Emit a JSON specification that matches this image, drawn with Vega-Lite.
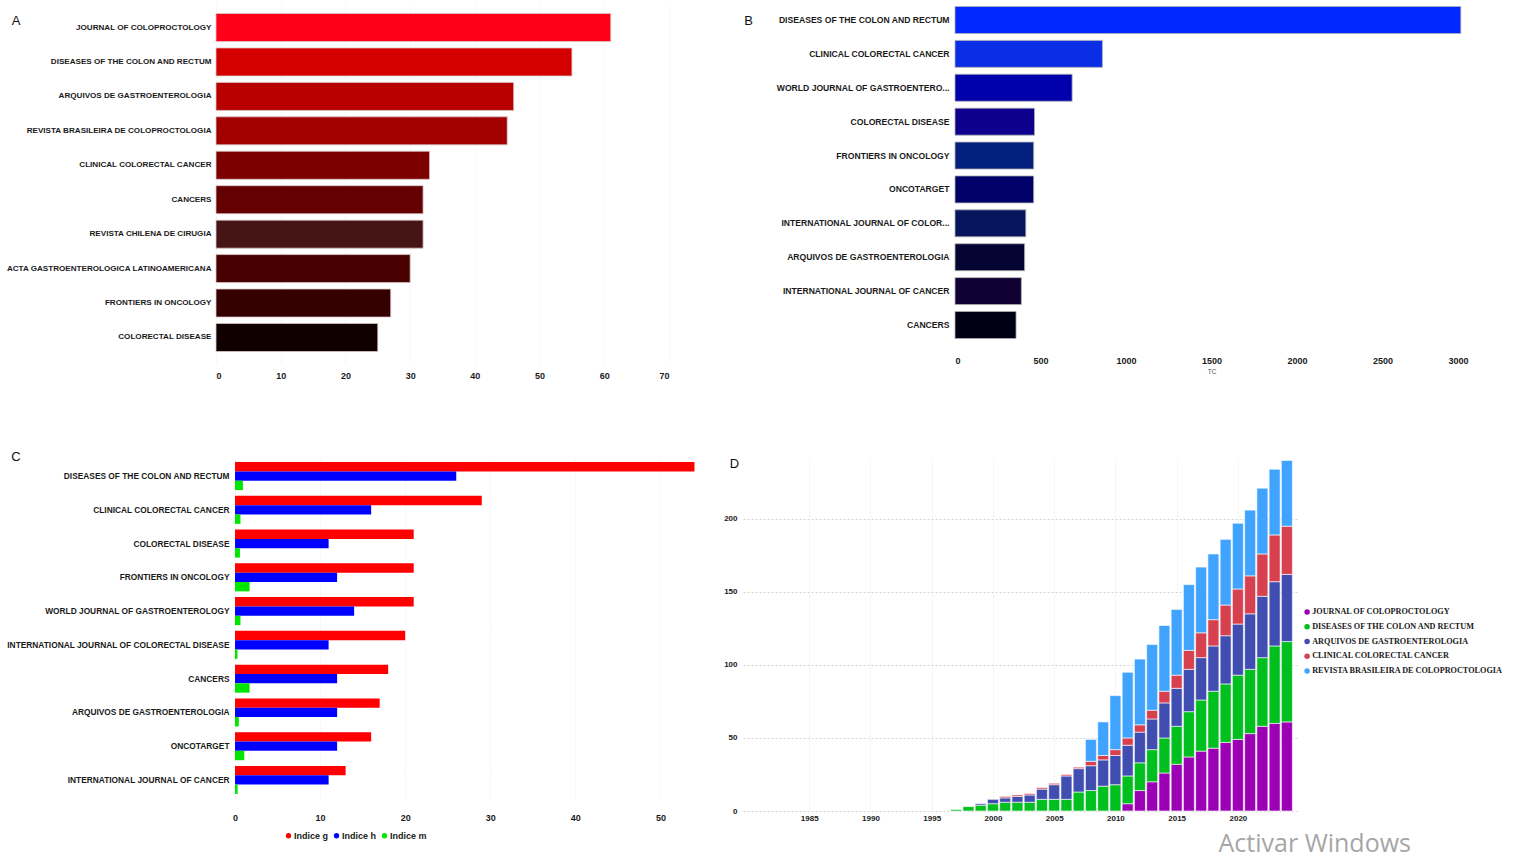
{
  "$schema": "https://vega.github.io/schema/vega-lite/v6.json",
  "background": "white",
  "padding": {"left": 5, "top": 3, "right": 5, "bottom": 5},
  "config": {
    "view": {"stroke": null},
    "font": "Liberation Sans",
    "axis": {"labelColor": "#1a1a1a", "ticks": false, "domain": false, "title": null}
  },
  "title": {"text": "Activar Windows", "orient": "bottom", "anchor": "end", "font": "Open Sans", "fontSize": 25, "fontWeight": "normal", "color": "#a6a6a6", "dx": -92, "dy": -9, "offset": 0},
  "datasets": {
    "a": [
      {"journal": "JOURNAL OF COLOPROCTOLOGY", "docs": 61},
      {"journal": "DISEASES OF THE COLON AND RECTUM", "docs": 55},
      {"journal": "ARQUIVOS DE GASTROENTEROLOGIA", "docs": 46},
      {"journal": "REVISTA BRASILEIRA DE COLOPROCTOLOGIA", "docs": 45},
      {"journal": "CLINICAL COLORECTAL CANCER", "docs": 33},
      {"journal": "CANCERS", "docs": 32},
      {"journal": "REVISTA CHILENA DE CIRUGIA", "docs": 32},
      {"journal": "ACTA GASTROENTEROLOGICA LATINOAMERICANA", "docs": 30},
      {"journal": "FRONTIERS IN ONCOLOGY", "docs": 27},
      {"journal": "COLORECTAL DISEASE", "docs": 25}
    ],
    "b": [
      {"journal": "DISEASES OF THE COLON AND RECTUM", "tc": 2958},
      {"journal": "CLINICAL COLORECTAL CANCER", "tc": 862},
      {"journal": "WORLD JOURNAL OF GASTROENTERO...", "tc": 685},
      {"journal": "COLORECTAL DISEASE", "tc": 465},
      {"journal": "FRONTIERS IN ONCOLOGY", "tc": 460},
      {"journal": "ONCOTARGET", "tc": 460},
      {"journal": "INTERNATIONAL JOURNAL OF COLOR...", "tc": 414},
      {"journal": "ARQUIVOS DE GASTROENTEROLOGIA", "tc": 407},
      {"journal": "INTERNATIONAL JOURNAL OF CANCER", "tc": 388},
      {"journal": "CANCERS", "tc": 357}
    ],
    "c": [
      {"journal": "DISEASES OF THE COLON AND RECTUM", "indice": "Indice g", "valor": 54},
      {"journal": "DISEASES OF THE COLON AND RECTUM", "indice": "Indice h", "valor": 26},
      {"journal": "DISEASES OF THE COLON AND RECTUM", "indice": "Indice m", "valor": 0.93},
      {"journal": "CLINICAL COLORECTAL CANCER", "indice": "Indice g", "valor": 29},
      {"journal": "CLINICAL COLORECTAL CANCER", "indice": "Indice h", "valor": 16},
      {"journal": "CLINICAL COLORECTAL CANCER", "indice": "Indice m", "valor": 0.64},
      {"journal": "COLORECTAL DISEASE", "indice": "Indice g", "valor": 21},
      {"journal": "COLORECTAL DISEASE", "indice": "Indice h", "valor": 11},
      {"journal": "COLORECTAL DISEASE", "indice": "Indice m", "valor": 0.58},
      {"journal": "FRONTIERS IN ONCOLOGY", "indice": "Indice g", "valor": 21},
      {"journal": "FRONTIERS IN ONCOLOGY", "indice": "Indice h", "valor": 12},
      {"journal": "FRONTIERS IN ONCOLOGY", "indice": "Indice m", "valor": 1.71},
      {"journal": "WORLD JOURNAL OF GASTROENTEROLOGY", "indice": "Indice g", "valor": 21},
      {"journal": "WORLD JOURNAL OF GASTROENTEROLOGY", "indice": "Indice h", "valor": 14},
      {"journal": "WORLD JOURNAL OF GASTROENTEROLOGY", "indice": "Indice m", "valor": 0.64},
      {"journal": "INTERNATIONAL JOURNAL OF COLORECTAL DISEASE", "indice": "Indice g", "valor": 20},
      {"journal": "INTERNATIONAL JOURNAL OF COLORECTAL DISEASE", "indice": "Indice h", "valor": 11},
      {"journal": "INTERNATIONAL JOURNAL OF COLORECTAL DISEASE", "indice": "Indice m", "valor": 0.29},
      {"journal": "CANCERS", "indice": "Indice g", "valor": 18},
      {"journal": "CANCERS", "indice": "Indice h", "valor": 12},
      {"journal": "CANCERS", "indice": "Indice m", "valor": 1.71},
      {"journal": "ARQUIVOS DE GASTROENTEROLOGIA", "indice": "Indice g", "valor": 17},
      {"journal": "ARQUIVOS DE GASTROENTEROLOGIA", "indice": "Indice h", "valor": 12},
      {"journal": "ARQUIVOS DE GASTROENTEROLOGIA", "indice": "Indice m", "valor": 0.44},
      {"journal": "ONCOTARGET", "indice": "Indice g", "valor": 16},
      {"journal": "ONCOTARGET", "indice": "Indice h", "valor": 12},
      {"journal": "ONCOTARGET", "indice": "Indice m", "valor": 1.09},
      {"journal": "INTERNATIONAL JOURNAL OF CANCER", "indice": "Indice g", "valor": 13},
      {"journal": "INTERNATIONAL JOURNAL OF CANCER", "indice": "Indice h", "valor": 11},
      {"journal": "INTERNATIONAL JOURNAL OF CANCER", "indice": "Indice m", "valor": 0.31}
    ],
    "d": [
      {"year": 1997, "journal": "DISEASES OF THE COLON AND RECTUM", "k": 2, "n": 1},
      {"year": 1998, "journal": "DISEASES OF THE COLON AND RECTUM", "k": 2, "n": 3},
      {"year": 1999, "journal": "DISEASES OF THE COLON AND RECTUM", "k": 2, "n": 4},
      {"year": 1999, "journal": "ARQUIVOS DE GASTROENTEROLOGIA", "k": 3, "n": 1},
      {"year": 2000, "journal": "DISEASES OF THE COLON AND RECTUM", "k": 2, "n": 5},
      {"year": 2000, "journal": "ARQUIVOS DE GASTROENTEROLOGIA", "k": 3, "n": 3},
      {"year": 2001, "journal": "DISEASES OF THE COLON AND RECTUM", "k": 2, "n": 6},
      {"year": 2001, "journal": "ARQUIVOS DE GASTROENTEROLOGIA", "k": 3, "n": 3},
      {"year": 2001, "journal": "CLINICAL COLORECTAL CANCER", "k": 4, "n": 1},
      {"year": 2002, "journal": "DISEASES OF THE COLON AND RECTUM", "k": 2, "n": 6},
      {"year": 2002, "journal": "ARQUIVOS DE GASTROENTEROLOGIA", "k": 3, "n": 4},
      {"year": 2002, "journal": "CLINICAL COLORECTAL CANCER", "k": 4, "n": 1},
      {"year": 2003, "journal": "DISEASES OF THE COLON AND RECTUM", "k": 2, "n": 6},
      {"year": 2003, "journal": "ARQUIVOS DE GASTROENTEROLOGIA", "k": 3, "n": 5},
      {"year": 2003, "journal": "CLINICAL COLORECTAL CANCER", "k": 4, "n": 1},
      {"year": 2004, "journal": "DISEASES OF THE COLON AND RECTUM", "k": 2, "n": 8},
      {"year": 2004, "journal": "ARQUIVOS DE GASTROENTEROLOGIA", "k": 3, "n": 7},
      {"year": 2004, "journal": "CLINICAL COLORECTAL CANCER", "k": 4, "n": 1},
      {"year": 2005, "journal": "DISEASES OF THE COLON AND RECTUM", "k": 2, "n": 8},
      {"year": 2005, "journal": "ARQUIVOS DE GASTROENTEROLOGIA", "k": 3, "n": 10},
      {"year": 2005, "journal": "CLINICAL COLORECTAL CANCER", "k": 4, "n": 1},
      {"year": 2006, "journal": "DISEASES OF THE COLON AND RECTUM", "k": 2, "n": 8},
      {"year": 2006, "journal": "ARQUIVOS DE GASTROENTEROLOGIA", "k": 3, "n": 16},
      {"year": 2006, "journal": "CLINICAL COLORECTAL CANCER", "k": 4, "n": 1},
      {"year": 2007, "journal": "DISEASES OF THE COLON AND RECTUM", "k": 2, "n": 13},
      {"year": 2007, "journal": "ARQUIVOS DE GASTROENTEROLOGIA", "k": 3, "n": 16},
      {"year": 2007, "journal": "CLINICAL COLORECTAL CANCER", "k": 4, "n": 1},
      {"year": 2008, "journal": "DISEASES OF THE COLON AND RECTUM", "k": 2, "n": 14},
      {"year": 2008, "journal": "ARQUIVOS DE GASTROENTEROLOGIA", "k": 3, "n": 17},
      {"year": 2008, "journal": "CLINICAL COLORECTAL CANCER", "k": 4, "n": 3},
      {"year": 2008, "journal": "REVISTA BRASILEIRA DE COLOPROCTOLOGIA", "k": 5, "n": 15},
      {"year": 2009, "journal": "DISEASES OF THE COLON AND RECTUM", "k": 2, "n": 17},
      {"year": 2009, "journal": "ARQUIVOS DE GASTROENTEROLOGIA", "k": 3, "n": 18},
      {"year": 2009, "journal": "CLINICAL COLORECTAL CANCER", "k": 4, "n": 3},
      {"year": 2009, "journal": "REVISTA BRASILEIRA DE COLOPROCTOLOGIA", "k": 5, "n": 23},
      {"year": 2010, "journal": "DISEASES OF THE COLON AND RECTUM", "k": 2, "n": 18},
      {"year": 2010, "journal": "ARQUIVOS DE GASTROENTEROLOGIA", "k": 3, "n": 20},
      {"year": 2010, "journal": "CLINICAL COLORECTAL CANCER", "k": 4, "n": 4},
      {"year": 2010, "journal": "REVISTA BRASILEIRA DE COLOPROCTOLOGIA", "k": 5, "n": 37},
      {"year": 2011, "journal": "JOURNAL OF COLOPROCTOLOGY", "k": 1, "n": 5},
      {"year": 2011, "journal": "DISEASES OF THE COLON AND RECTUM", "k": 2, "n": 19},
      {"year": 2011, "journal": "ARQUIVOS DE GASTROENTEROLOGIA", "k": 3, "n": 21},
      {"year": 2011, "journal": "CLINICAL COLORECTAL CANCER", "k": 4, "n": 5},
      {"year": 2011, "journal": "REVISTA BRASILEIRA DE COLOPROCTOLOGIA", "k": 5, "n": 45},
      {"year": 2012, "journal": "JOURNAL OF COLOPROCTOLOGY", "k": 1, "n": 14},
      {"year": 2012, "journal": "DISEASES OF THE COLON AND RECTUM", "k": 2, "n": 19},
      {"year": 2012, "journal": "ARQUIVOS DE GASTROENTEROLOGIA", "k": 3, "n": 21},
      {"year": 2012, "journal": "CLINICAL COLORECTAL CANCER", "k": 4, "n": 5},
      {"year": 2012, "journal": "REVISTA BRASILEIRA DE COLOPROCTOLOGIA", "k": 5, "n": 45},
      {"year": 2013, "journal": "JOURNAL OF COLOPROCTOLOGY", "k": 1, "n": 20},
      {"year": 2013, "journal": "DISEASES OF THE COLON AND RECTUM", "k": 2, "n": 22},
      {"year": 2013, "journal": "ARQUIVOS DE GASTROENTEROLOGIA", "k": 3, "n": 21},
      {"year": 2013, "journal": "CLINICAL COLORECTAL CANCER", "k": 4, "n": 6},
      {"year": 2013, "journal": "REVISTA BRASILEIRA DE COLOPROCTOLOGIA", "k": 5, "n": 45},
      {"year": 2014, "journal": "JOURNAL OF COLOPROCTOLOGY", "k": 1, "n": 26},
      {"year": 2014, "journal": "DISEASES OF THE COLON AND RECTUM", "k": 2, "n": 24},
      {"year": 2014, "journal": "ARQUIVOS DE GASTROENTEROLOGIA", "k": 3, "n": 24},
      {"year": 2014, "journal": "CLINICAL COLORECTAL CANCER", "k": 4, "n": 8},
      {"year": 2014, "journal": "REVISTA BRASILEIRA DE COLOPROCTOLOGIA", "k": 5, "n": 45},
      {"year": 2015, "journal": "JOURNAL OF COLOPROCTOLOGY", "k": 1, "n": 32},
      {"year": 2015, "journal": "DISEASES OF THE COLON AND RECTUM", "k": 2, "n": 26},
      {"year": 2015, "journal": "ARQUIVOS DE GASTROENTEROLOGIA", "k": 3, "n": 26},
      {"year": 2015, "journal": "CLINICAL COLORECTAL CANCER", "k": 4, "n": 9},
      {"year": 2015, "journal": "REVISTA BRASILEIRA DE COLOPROCTOLOGIA", "k": 5, "n": 45},
      {"year": 2016, "journal": "JOURNAL OF COLOPROCTOLOGY", "k": 1, "n": 37},
      {"year": 2016, "journal": "DISEASES OF THE COLON AND RECTUM", "k": 2, "n": 31},
      {"year": 2016, "journal": "ARQUIVOS DE GASTROENTEROLOGIA", "k": 3, "n": 29},
      {"year": 2016, "journal": "CLINICAL COLORECTAL CANCER", "k": 4, "n": 13},
      {"year": 2016, "journal": "REVISTA BRASILEIRA DE COLOPROCTOLOGIA", "k": 5, "n": 45},
      {"year": 2017, "journal": "JOURNAL OF COLOPROCTOLOGY", "k": 1, "n": 41},
      {"year": 2017, "journal": "DISEASES OF THE COLON AND RECTUM", "k": 2, "n": 35},
      {"year": 2017, "journal": "ARQUIVOS DE GASTROENTEROLOGIA", "k": 3, "n": 29},
      {"year": 2017, "journal": "CLINICAL COLORECTAL CANCER", "k": 4, "n": 17},
      {"year": 2017, "journal": "REVISTA BRASILEIRA DE COLOPROCTOLOGIA", "k": 5, "n": 45},
      {"year": 2018, "journal": "JOURNAL OF COLOPROCTOLOGY", "k": 1, "n": 43},
      {"year": 2018, "journal": "DISEASES OF THE COLON AND RECTUM", "k": 2, "n": 39},
      {"year": 2018, "journal": "ARQUIVOS DE GASTROENTEROLOGIA", "k": 3, "n": 31},
      {"year": 2018, "journal": "CLINICAL COLORECTAL CANCER", "k": 4, "n": 18},
      {"year": 2018, "journal": "REVISTA BRASILEIRA DE COLOPROCTOLOGIA", "k": 5, "n": 45},
      {"year": 2019, "journal": "JOURNAL OF COLOPROCTOLOGY", "k": 1, "n": 47},
      {"year": 2019, "journal": "DISEASES OF THE COLON AND RECTUM", "k": 2, "n": 40},
      {"year": 2019, "journal": "ARQUIVOS DE GASTROENTEROLOGIA", "k": 3, "n": 33},
      {"year": 2019, "journal": "CLINICAL COLORECTAL CANCER", "k": 4, "n": 21},
      {"year": 2019, "journal": "REVISTA BRASILEIRA DE COLOPROCTOLOGIA", "k": 5, "n": 45},
      {"year": 2020, "journal": "JOURNAL OF COLOPROCTOLOGY", "k": 1, "n": 49},
      {"year": 2020, "journal": "DISEASES OF THE COLON AND RECTUM", "k": 2, "n": 44},
      {"year": 2020, "journal": "ARQUIVOS DE GASTROENTEROLOGIA", "k": 3, "n": 35},
      {"year": 2020, "journal": "CLINICAL COLORECTAL CANCER", "k": 4, "n": 24},
      {"year": 2020, "journal": "REVISTA BRASILEIRA DE COLOPROCTOLOGIA", "k": 5, "n": 45},
      {"year": 2021, "journal": "JOURNAL OF COLOPROCTOLOGY", "k": 1, "n": 53},
      {"year": 2021, "journal": "DISEASES OF THE COLON AND RECTUM", "k": 2, "n": 44},
      {"year": 2021, "journal": "ARQUIVOS DE GASTROENTEROLOGIA", "k": 3, "n": 38},
      {"year": 2021, "journal": "CLINICAL COLORECTAL CANCER", "k": 4, "n": 26},
      {"year": 2021, "journal": "REVISTA BRASILEIRA DE COLOPROCTOLOGIA", "k": 5, "n": 45},
      {"year": 2022, "journal": "JOURNAL OF COLOPROCTOLOGY", "k": 1, "n": 58},
      {"year": 2022, "journal": "DISEASES OF THE COLON AND RECTUM", "k": 2, "n": 47},
      {"year": 2022, "journal": "ARQUIVOS DE GASTROENTEROLOGIA", "k": 3, "n": 42},
      {"year": 2022, "journal": "CLINICAL COLORECTAL CANCER", "k": 4, "n": 29},
      {"year": 2022, "journal": "REVISTA BRASILEIRA DE COLOPROCTOLOGIA", "k": 5, "n": 45},
      {"year": 2023, "journal": "JOURNAL OF COLOPROCTOLOGY", "k": 1, "n": 60},
      {"year": 2023, "journal": "DISEASES OF THE COLON AND RECTUM", "k": 2, "n": 53},
      {"year": 2023, "journal": "ARQUIVOS DE GASTROENTEROLOGIA", "k": 3, "n": 44},
      {"year": 2023, "journal": "CLINICAL COLORECTAL CANCER", "k": 4, "n": 32},
      {"year": 2023, "journal": "REVISTA BRASILEIRA DE COLOPROCTOLOGIA", "k": 5, "n": 45},
      {"year": 2024, "journal": "JOURNAL OF COLOPROCTOLOGY", "k": 1, "n": 61},
      {"year": 2024, "journal": "DISEASES OF THE COLON AND RECTUM", "k": 2, "n": 55},
      {"year": 2024, "journal": "ARQUIVOS DE GASTROENTEROLOGIA", "k": 3, "n": 46},
      {"year": 2024, "journal": "CLINICAL COLORECTAL CANCER", "k": 4, "n": 33},
      {"year": 2024, "journal": "REVISTA BRASILEIRA DE COLOPROCTOLOGIA", "k": 5, "n": 45}
    ]
  },
  "resolve": {"scale": {"color": "independent"}, "legend": {"color": "independent"}},
  "columns": 1,
  "align": "none",
  "spacing": 71,
  "concat": [
    {
      "bounds": "flush",
      "spacing": 286,
      "resolve": {"scale": {"color": "independent"}, "legend": {"color": "independent"}},
      "hconcat": [
        {
          "width": 453,
          "height": 359,
          "data": {"name": "a"},
          "title": {"text": "A", "anchor": "start", "frame": "bounds", "orient": "top", "offset": 0, "font": "Liberation Sans", "fontSize": 13, "fontWeight": "normal", "color": "#111111", "dx": 6, "dy": 25},
          "mark": {"type": "bar", "stroke": "#d8c8c8", "strokeWidth": 0.8},
          "encoding": {
            "y": {"field": "journal", "type": "nominal", "sort": null,
              "scale": {"paddingInner": 0.186, "paddingOuter": 0.305},
              "axis": {"labelFont": "Liberation Sans", "labelFontSize": 8.1, "labelFontWeight": "bold", "labelPadding": 5, "labelLimit": 400}},
            "x": {"field": "docs", "type": "quantitative",
              "scale": {"domain": [0, 70], "nice": false},
              "axis": {"values": [0, 10, 20, 30, 40, 50, 60, 70], "grid": true, "gridColor": "#f0f0f0", "gridDash": [2, 2], "labelFont": "Liberation Sans", "labelFontSize": 9, "labelFontWeight": "bold", "labelPadding": 9}},
            "color": {"field": "journal", "type": "nominal", "legend": null,
              "scale": {
                "domain": ["JOURNAL OF COLOPROCTOLOGY", "DISEASES OF THE COLON AND RECTUM", "ARQUIVOS DE GASTROENTEROLOGIA", "REVISTA BRASILEIRA DE COLOPROCTOLOGIA", "CLINICAL COLORECTAL CANCER", "CANCERS", "REVISTA CHILENA DE CIRUGIA", "ACTA GASTROENTEROLOGICA LATINOAMERICANA", "FRONTIERS IN ONCOLOGY", "COLORECTAL DISEASE"],
                "range": ["#ff0019", "#d40000", "#b80000", "#a20000", "#7c0000", "#640000", "#461414", "#480000", "#340000", "#100000"]}}
          }
        },
        {
          "width": 513,
          "height": 339,
          "data": {"name": "b"},
          "title": {"text": "B", "anchor": "start", "frame": "bounds", "orient": "top", "offset": 0, "font": "Liberation Sans", "fontSize": 13, "fontWeight": "normal", "color": "#111111", "dx": -32, "dy": 25},
          "mark": {"type": "bar", "stroke": "#b0b0b0", "strokeWidth": 0.8},
          "encoding": {
            "y": {"field": "journal", "type": "nominal", "sort": null,
              "scale": {"paddingInner": 0.204, "paddingOuter": 0.103},
              "axis": {"labelFont": "Liberation Sans", "labelFontSize": 8.6, "labelFontWeight": "bold", "labelPadding": 6, "labelLimit": 400}},
            "x": {"field": "tc", "type": "quantitative",
              "scale": {"domain": [0, 3000], "nice": false},
              "axis": {"values": [0, 500, 1000, 1500, 2000, 2500, 3000], "format": "d", "grid": false, "title": "TC", "titleFont": "Liberation Sans", "titleFontSize": 6.5, "titleFontWeight": "normal", "titleColor": "#555555", "titlePadding": 3, "labelFont": "Liberation Sans", "labelFontSize": 9, "labelFontWeight": "bold", "labelPadding": 14}},
            "color": {"field": "journal", "type": "nominal", "legend": null,
              "scale": {
                "domain": ["DISEASES OF THE COLON AND RECTUM", "CLINICAL COLORECTAL CANCER", "WORLD JOURNAL OF GASTROENTERO...", "COLORECTAL DISEASE", "FRONTIERS IN ONCOLOGY", "ONCOTARGET", "INTERNATIONAL JOURNAL OF COLOR...", "ARQUIVOS DE GASTROENTEROLOGIA", "INTERNATIONAL JOURNAL OF CANCER", "CANCERS"],
                "range": ["#0028ff", "#0a2ee6", "#0000ac", "#0c008c", "#04207e", "#000068", "#05145c", "#050532", "#100034", "#000014"]}}
          }
        }
      ]
    },
    {
      "bounds": "flush",
      "spacing": 40,
      "resolve": {"scale": {"color": "independent"}, "legend": {"color": "independent"}},
      "hconcat": [
        {
          "width": 487,
          "height": 338,
          "data": {"name": "c"},
          "title": {"text": "C", "anchor": "start", "frame": "bounds", "orient": "top", "offset": 0, "font": "Liberation Sans", "fontSize": 13, "fontWeight": "normal", "color": "#111111", "dx": 5, "dy": 5},
          "mark": {"type": "bar"},
          "encoding": {
            "y": {"field": "journal", "type": "nominal", "sort": null,
              "scale": {"paddingInner": 0.17, "paddingOuter": 0.09},
              "axis": {"labelFont": "Liberation Sans", "labelFontSize": 8.35, "labelFontWeight": "bold", "labelPadding": -13, "labelLimit": 400}},
            "yOffset": {"field": "indice", "type": "nominal", "sort": ["Indice g", "Indice h", "Indice m"], "scale": {"paddingInner": 0, "paddingOuter": 0}},
            "x": {"field": "valor", "type": "quantitative",
              "scale": {"domain": [-2.235, 55], "nice": false, "zero": false},
              "axis": {"values": [0, 10, 20, 30, 40, 50], "grid": true, "gridColor": "#f0f0f0", "gridDash": [2, 2], "labelFont": "Liberation Sans", "labelFontSize": 9, "labelFontWeight": "bold", "labelPadding": 16}},
            "color": {"field": "indice", "type": "nominal",
              "scale": {"domain": ["Indice g", "Indice h", "Indice m"], "range": ["#ff0000", "#0000ff", "#00e600"]},
              "legend": {"orient": "none", "legendX": 68, "legendY": 372, "direction": "horizontal", "title": null, "symbolType": "circle", "symbolSize": 28, "symbolStrokeWidth": 0, "labelFont": "Liberation Sans", "labelFontSize": 9, "labelFontWeight": "bold", "labelColor": "#1a1a1a", "labelOffset": 1, "columnPadding": 3}}
          }
        },
        {
          "width": 555,
          "height": 352,
          "data": {"name": "d"},
          "title": {"text": "D", "anchor": "start", "frame": "bounds", "orient": "top", "offset": 0, "font": "Liberation Sans", "fontSize": 13, "fontWeight": "normal", "color": "#111111", "dx": 6, "dy": 12},
          "mark": {"type": "bar", "size": 11, "stroke": "white", "strokeWidth": 0.6},
          "encoding": {
            "x": {"field": "year", "type": "quantitative",
              "scale": {"domain": [1980, 2024.5], "nice": false, "zero": false},
              "axis": {"values": [1985, 1990, 1995, 2000, 2005, 2010, 2015, 2020], "format": "d", "grid": true, "gridColor": "#ececec", "gridDash": [2, 2], "labelFont": "Liberation Sans", "labelFontSize": 8, "labelFontWeight": "bold", "labelPadding": 3}},
            "y": {"field": "n", "type": "quantitative",
              "scale": {"domain": [0, 241], "nice": false},
              "axis": {"values": [0, 50, 100, 150, 200], "grid": true, "gridColor": "#d4d4d4", "gridDash": [2, 2], "labelFont": "Liberation Sans", "labelFontSize": 8, "labelFontWeight": "bold", "labelPadding": 6}},
            "order": {"field": "k", "type": "quantitative"},
            "color": {"field": "journal", "type": "nominal",
              "scale": {"domain": ["JOURNAL OF COLOPROCTOLOGY", "DISEASES OF THE COLON AND RECTUM", "ARQUIVOS DE GASTROENTEROLOGIA", "CLINICAL COLORECTAL CANCER", "REVISTA BRASILEIRA DE COLOPROCTOLOGIA"],
                "range": ["#9c00b4", "#00bf1e", "#3f4eb0", "#d6404f", "#40a4ff"]},
              "legend": {"orient": "none", "legendX": 560, "legendY": 149, "title": null, "symbolType": "circle", "symbolSize": 30, "symbolStrokeWidth": 0, "labelFont": "Liberation Serif", "labelFontSize": 8.2, "labelFontWeight": "bold", "labelColor": "#1a1a1a", "labelOffset": 1, "labelLimit": 400, "rowPadding": 5.7}}
          }
        }
      ]
    }
  ]
}
